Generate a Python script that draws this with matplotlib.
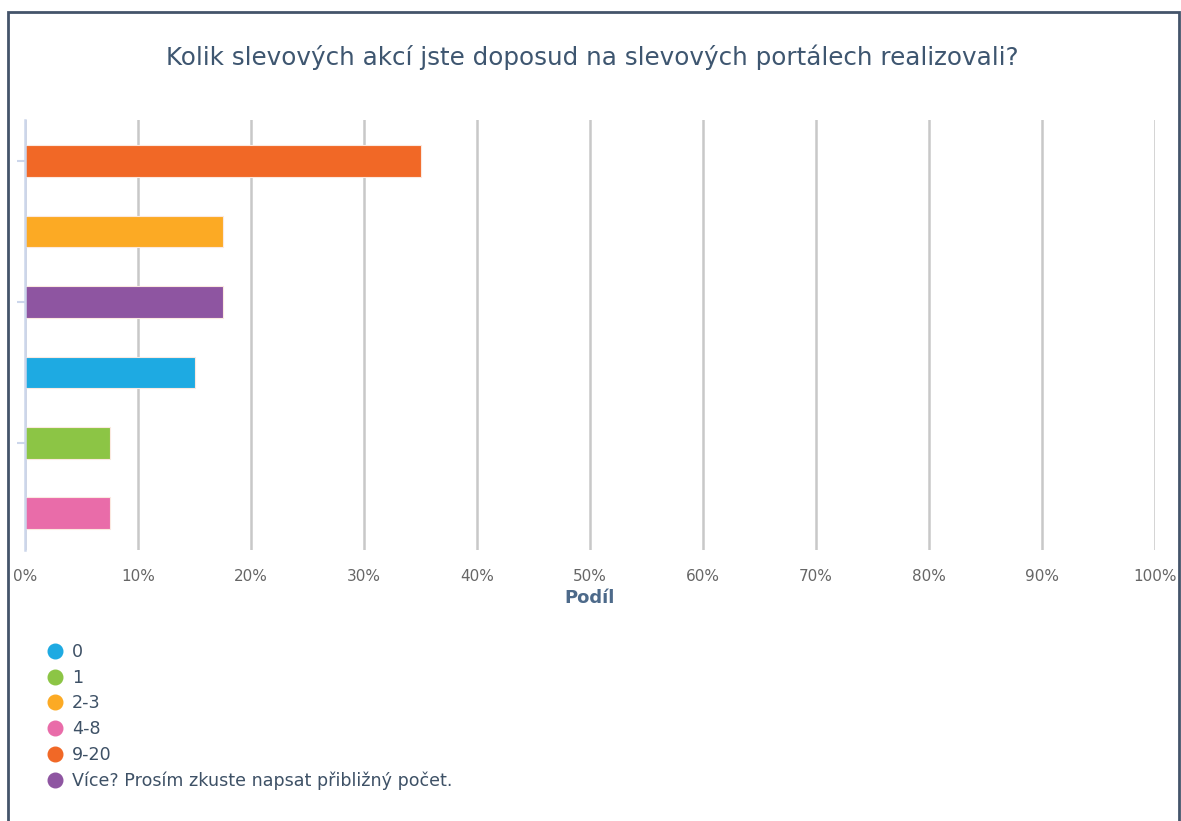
import matplotlib.pyplot as plt
from matplotlib.lines import Line2D
from matplotlib.patches import Rectangle
from matplotlib.ticker import PercentFormatter

# Odpovědi a jejich podíl v procentech
kategorie = ['0', '1', '2-3', '4-8', '9-20', 'Více? Prosím zkuste napsat přibližný počet.']
podil = [15.0, 7.5, 17.5, 7.5, 35.0, 17.5]
barvy = ['#1eaae2', '#8cc545', '#fcaa24', '#e96ca9', '#f16826', '#8e55a1']

titulek = 'Kolik slevových akcí jste doposud na slevových portálech realizovali?'
osa_x = 'Podíl'
tiky_x = [0, 10, 20, 30, 40, 50, 60, 70, 80, 90, 100]

plt.rcParams['font.family'] = 'DejaVu Sans'

W, H = 1181, 821
fig = plt.figure(figsize=(W / 100, H / 100), dpi=100)

# tmavý rámeček kolem celého grafu
fig.patches.append(Rectangle((8 / W, -0.05), (1179 - 8) / W, 1.05 - 12 / H,
                             transform=fig.transFigure, fill=False,
                             edgecolor='#44546a', linewidth=2))

ax = fig.add_axes([25 / W, (H - 550) / H, (1155 - 25) / W, (550 - 120) / H])

# pruhy seřazené sestupně podle podílu
poradi = sorted(range(len(podil)), key=lambda i: -podil[i])
pozice = list(range(len(poradi)))
ax.barh(pozice, [podil[i] for i in poradi], height=0.45,
        color=[barvy[i] for i in poradi], edgecolor='#fbe9e0', linewidth=0.8, zorder=3)

ax.set_xlim(0, 100)
ax.set_ylim(5.52, -0.58)
ax.set_xticks(tiky_x)
ax.xaxis.set_major_formatter(PercentFormatter(decimals=0))
ax.set_yticks(pozice[::2])
ax.set_yticklabels([])

ax.grid(axis='x', color='#c8c8c8', linewidth=1.8, zorder=0)
for s in ['top', 'right', 'bottom']:
    ax.spines[s].set_visible(False)
ax.spines['left'].set_color('#ccd6eb')
ax.spines['left'].set_linewidth(1.8)
ax.spines['left'].set_zorder(4)

ax.tick_params(axis='x', length=0, pad=14, labelsize=11, labelcolor='#666666')
ax.tick_params(axis='y', length=6, width=1.5, color='#ccd6eb')
ax.set_xlabel(osa_x, fontsize=13, fontweight='bold', color='#4d6a8a', labelpad=3)

fig.text(592 / W, 1 - 57 / H, titulek, ha='center', va='center',
         fontsize=17.7, color='#3e5670')

handles = [Line2D([], [], marker='o', linestyle='', markersize=10.5,
                  markerfacecolor=c, markeredgecolor=c) for c in barvy]
leg = fig.legend(handles, kategorie, loc='upper left',
                 bbox_to_anchor=(48 / W, 1 - 643 / H), frameon=False,
                 fontsize=12.6, labelspacing=0.44, handlelength=0.8,
                 handletextpad=0.57, borderpad=0, borderaxespad=0)
for t in leg.get_texts():
    t.set_color('#3e5166')

fig.savefig('out.png', dpi=100)
